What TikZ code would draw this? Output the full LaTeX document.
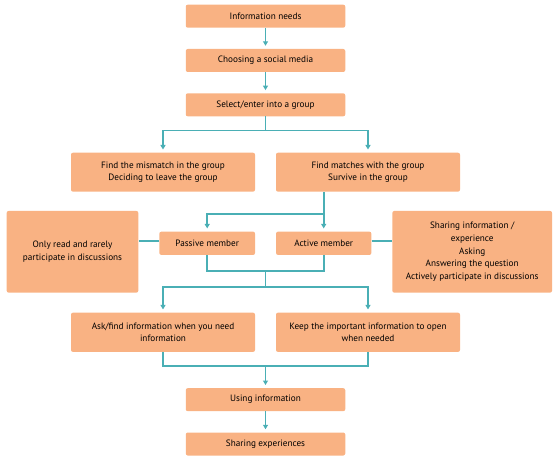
\documentclass[tikz,border=0pt]{standalone}
\usepackage{fontspec}
\setmainfont{PT Sans}
\usetikzlibrary{arrows.meta}
\definecolor{boxorange}{HTML}{F9B283}
\definecolor{linkteal}{HTML}{4AAFB5}
\tikzset{
    box/.style={fill=boxorange,rounded corners=2pt,align=center,inner sep=2pt,font=\fontsize{9.2}{12.7}\selectfont},
    line/.style={draw=linkteal,line width=1.8pt},
    arrow/.style={line,-{Triangle[width=5pt,length=4.5pt]},shorten >=3pt}
}
\begin{document}
\begin{tikzpicture}[x=1pt,y=-1pt]
    \useasboundingbox (0,0) rectangle (558,460);
    % main column
    \node[box,minimum width=159.5pt,minimum height=23pt] (need) at (265.5,16.2) {Information needs};
    \node[box,minimum width=159.5pt,minimum height=23pt] (social) at (265.5,60.5) {Choosing a social media};
    \node[box,minimum width=159.5pt,minimum height=23pt] (group) at (265.5,104.8) {Select/enter into a group};
    \node[box,minimum width=184pt,minimum height=39pt] (mismatch) at (163,172.2) {Find the mismatch in the group\\Deciding to leave the group};
    \node[box,minimum width=184pt,minimum height=39pt] (match) at (368,172.2) {Find matches with the group\\Survive in the group};
    \node[box,minimum width=95.7pt,minimum height=23.3pt] (passive) at (207.2,243.3) {Passive member};
    \node[box,minimum width=95.3pt,minimum height=23.3pt] (active) at (323.7,243.3) {Active member};
    \node[box,minimum width=131.6pt,minimum height=81.7pt] (readonly) at (72.5,251.8) {Only read and rarely\\participate in discussions};
    \node[box,minimum width=159.7pt,minimum height=81.7pt] (sharing) at (472.2,251.8) {Sharing information /\\experience\\Asking\\Answering the question\\Actively participate in discussions};
    \node[box,minimum width=184pt,minimum height=39.3pt] (ask) at (163,332.3) {Ask/find information when you need\\information};
    \node[box,minimum width=184pt,minimum height=39.3pt] (keep) at (368,332.3) {Keep the important information to open\\when needed};
    \node[box,minimum width=159.5pt,minimum height=23pt] (use) at (265.5,399.7) {Using information};
    \node[box,minimum width=159.5pt,minimum height=23pt] (share) at (265.5,444) {Sharing experiences};
    % connectors
    \draw[arrow] (need) -- (social);
    \draw[arrow] (social) -- (group);
    \draw[line] (group.south) -- ++(0,14) coordinate (fork1);
    \draw[arrow] (fork1) -| (mismatch.north);
    \draw[arrow] (fork1) -| (match.north);
    \draw[line] (match.south -| active) -- ++(0,22.3) coordinate (fork2);
    \draw[arrow] (fork2) -| (passive.north);
    \draw[arrow] (fork2) -| (active.north);
    \draw[line] ([yshift=2pt]passive.west) -- ([yshift=2pt]passive.west -| readonly.east);
    \draw[line] ([yshift=2pt]active.east) -- ([yshift=2pt]active.east -| sharing.west);
    \draw[line] (passive.south) -- ++(0,15.7) coordinate (join1) -| (active.south);
    \draw[line] (join1 -| group.south) -- ++(0,16) coordinate (fork3);
    \draw[arrow] (fork3) -| (ask.north);
    \draw[arrow] (fork3) -| (keep.north);
    \draw[line] (ask.south) -- ++(0,14) coordinate (join2) -| (keep.south);
    \draw[arrow] (join2 -| use.north) -- (use.north);
    \draw[arrow] (use) -- (share);
\end{tikzpicture}
\end{document}
